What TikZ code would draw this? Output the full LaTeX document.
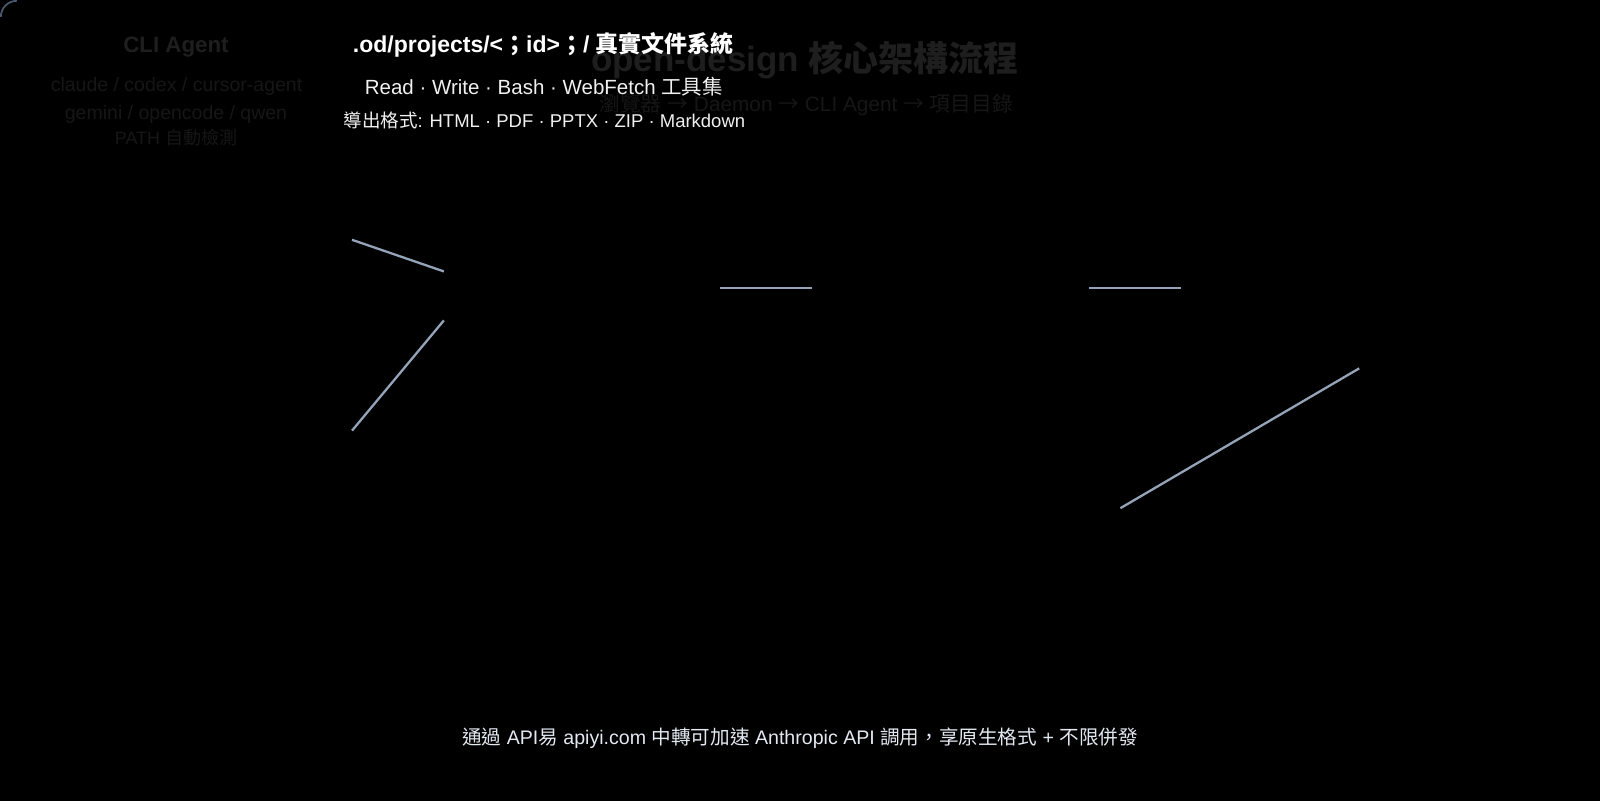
\documentclass[tikz,border=0pt]{standalone}
\usepackage{fontspec}
\setmainfont{Liberation Sans}
\newfontfamily\cjk{Noto Sans CJK TC}
\definecolor{bg}{HTML}{000000}
\definecolor{edge}{HTML}{94A3B8}
\definecolor{corner}{HTML}{4A5A70}
\definecolor{darkA}{HTML}{1E1E1E}
\definecolor{darkB}{HTML}{161616}
\definecolor{lightA}{HTML}{FFFFFF}
\definecolor{lightB}{HTML}{F0F0F0}
\definecolor{lightC}{HTML}{E2E8F0}
\newcommand\fsz[1]{\fontsize{#1}{#1}\selectfont}
\begin{document}
\begin{tikzpicture}[x=1.0204pt,y=-1.0204pt,
  txt/.style={inner sep=0pt,anchor=base},
  conn/.style={draw=edge,line width=2.3pt}]
\useasboundingbox (0,0) rectangle (1568,784);
\fill[bg] (-6,-6) rectangle (1574,790);
\draw[corner,line width=1.7pt] (0.8,16.5) arc[start angle=180,end angle=270,radius=15.7];
% left faint block
\node[txt,text=darkA,font=\fsz{22.3}\bfseries] (cli) at (172.5,51) {CLI Agent};
\node[txt,text=darkB,font=\fsz{19.5}] (cl1) at (173,89.3) {claude / codex / cursor-agent};
\node[txt,text=darkB,font=\fsz{19.5}] (cl2) at (172.5,117) {gemini / opencode / qwen};
\node[txt,text=darkB,font=\fsz{18}] (cl3) at (172.5,142) {PATH {\cjk 自動檢測}};
% title faint
\node[txt,text=darkA,font=\fsz{35}\bfseries] (title) at (789,70) {open-design {\cjk 核心架構流程}};
\node[txt,text=darkB,font=\fsz{20.8}] (sub) at (790,109.5) {{\cjk 瀏覽器} {\cjk →} Daemon {\cjk →} CLI Agent {\cjk →} {\cjk 項目目錄}};
% white block
\node[txt,text=lightA,font=\fsz{23}\bfseries] (od) at (532.5,51.2) {.od/projects/<{\cjk ；}id>{\cjk ；}/ {\cjk 真實文件系統}};
\node[txt,text=lightB,font=\fsz{20.5}] (tools) at (533,92.5) {Read · Write · Bash · WebFetch {\cjk 工具集}};
\node[txt,text=lightB,font=\fsz{18.5}] (exp) at (533.5,125.4) {{\cjk 導出格式}: HTML · PDF · PPTX · ZIP · Markdown};
% bottom
\node[txt,text=lightC,font=\fsz{19.6}] (foot) at (784,729.8) {{\cjk 通過} API{\cjk 易} apiyi.com {\cjk 中轉可加速} Anthropic API {\cjk 調用，享原生格式} + {\cjk 不限併發}};
% connectors
\coordinate (a1) at (345,235); \coordinate (a2) at (435,266);
\coordinate (b1) at (345,422); \coordinate (b2) at (435,314);
\coordinate (c1) at (706,282); \coordinate (c2) at (796,282);
\coordinate (d1) at (1067,282); \coordinate (d2) at (1157,282);
\coordinate (e1) at (1098,498); \coordinate (e2) at (1332,361);
\draw[conn] (a1) -- (a2);
\draw[conn] (b1) -- (b2);
\draw[conn] (c1) -- (c2);
\draw[conn] (d1) -- (d2);
\draw[conn] (e1) -- (e2);
\end{tikzpicture}
\end{document}
